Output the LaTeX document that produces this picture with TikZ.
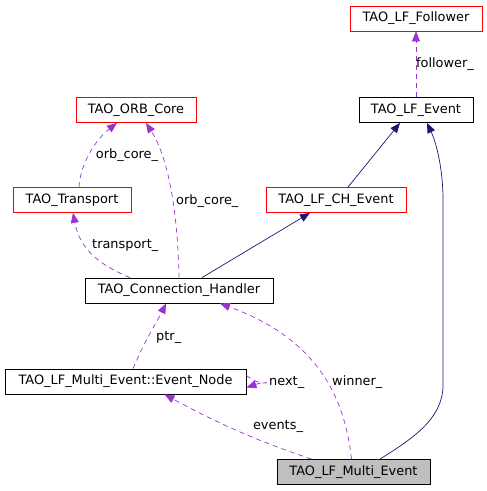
\documentclass[tikz,border=0pt]{standalone}
\usepackage{fontspec}
\setmainfont{DejaVu Sans}
\usetikzlibrary{arrows.meta}
\definecolor{edgeuse}{HTML}{9A32CD}
\definecolor{edgeinh}{HTML}{191970}
\definecolor{boxred}{HTML}{FF0000}
\definecolor{boxgray}{HTML}{BFBFBF}
\begin{document}
\begin{tikzpicture}[x=1pt,y=-1pt,
  every node/.append style={inner sep=0pt,font=\fontsize{12.9}{15}\selectfont},
  cls/.style={draw=black,line width=0.8pt,minimum height=25pt},
  clsred/.style={cls,draw=boxred},
  use/.style={edgeuse,line width=0.7pt,dash pattern=on 5pt off 4pt,-{Triangle[length=10pt,width=8pt]}},
  inh/.style={edgeinh,line width=0.7pt,-{Triangle[length=10pt,width=8pt]}}]
\useasboundingbox (0,0) rectangle (487,491);
% classes
\node [clsred,minimum width=132pt] (follower) at (416,18.5) {TAO\_LF\_Follower};
\node [cls,minimum width=114pt] (lfevent) at (416,110) {TAO\_LF\_Event};
\node [clsred,minimum width=120pt] (orbcore) at (136,110) {TAO\_ORB\_Core};
\node [clsred,minimum width=118pt] (transport) at (72,200) {TAO\_Transport};
\node [clsred,minimum width=140pt] (lfchevent) at (336,200) {TAO\_LF\_CH\_Event};
\node [cls,minimum width=188pt] (connhandler) at (179,290.5) {TAO\_Connection\_Handler};
\node [cls,minimum width=241pt] (eventnode) at (125.5,381.5) {TAO\_LF\_Multi\_Event::Event\_Node};
\node [cls,fill=boxgray,minimum width=153pt] (multievent) at (353.5,472) {TAO\_LF\_Multi\_Event};
% inheritance
\draw [inh] ([xshift=12pt]lfchevent.north) -- ([xshift=-16pt]lfevent.south);
\draw [inh] ([xshift=26.5pt]multievent.north) .. controls (410,440) and (443,420) .. (443,385)
  -- (443,200) .. controls (443,165) and (435,140) .. ([xshift=11pt]lfevent.south);
\draw [inh] ([xshift=23pt]connhandler.north) -- ([xshift=-26pt]lfchevent.south);
% members
\draw [use] (lfevent.north) -- (follower.south);
\node (lfollower) at (445,64) {follower\_};
\draw [use] ([xshift=7pt]transport.north) .. controls (80,165) and (95,140) .. ([xshift=-19pt]orbcore.south);
\node (lorbcore) at (127,155) {orb\_core\_};
\draw [use] (connhandler.north) .. controls (178,220) and (170,160) .. ([xshift=10pt]orbcore.south);
\node [anchor=west] (lorbcoreb) at (176,201) {orb\_core\_};
\draw [use] ([xshift=-49pt]connhandler.north) .. controls (100,265) and (80,250) .. ([xshift=1pt]transport.south);
\node [anchor=west] (ltransport) at (92,245) {transport\_};
\draw [use] ([xshift=7.5pt]eventnode.north) .. controls (145,340) and (158,320) .. ([xshift=-13pt]connhandler.south);
\node [anchor=west] (lptr) at (156,337) {ptr\_};
\draw [use] ([yshift=6pt]eventnode.east) .. controls (265,390) and (275,378) .. ([yshift=-6pt]eventnode.east);
\node [anchor=west] (lnext) at (269,382) {next\_};
\draw [use] ([xshift=-42pt]multievent.north) .. controls (270,445) and (230,430) .. ([xshift=39pt]eventnode.south);
\node (levents) at (278,426) {events\_};
\draw [use] ([xshift=-2pt]multievent.north) .. controls (345,400) and (320,340) .. ([xshift=41pt]connhandler.south);
\node [anchor=west] (lwinner) at (332,382) {winner\_};
\end{tikzpicture}
\end{document}
